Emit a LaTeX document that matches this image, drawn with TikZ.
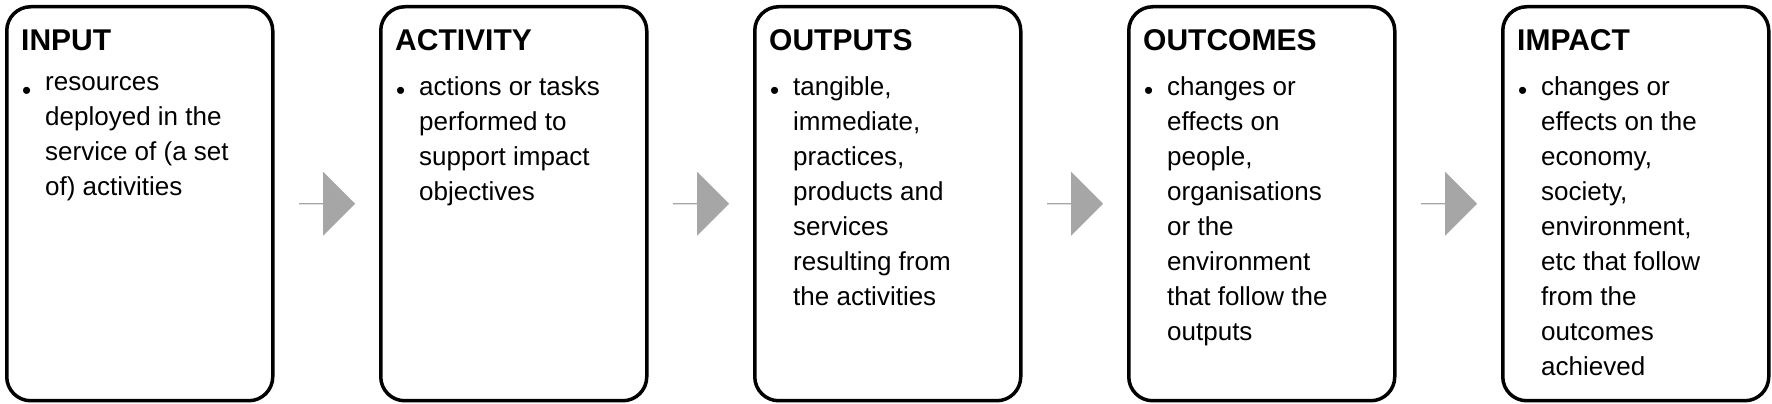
\documentclass[tikz,border=0pt]{standalone}
\usepackage{fontspec}
\setmainfont{Liberation Sans}
\usetikzlibrary{shapes.arrows,calc}
\tikzset{
  card/.style={draw=black, line width=3.5pt, rounded corners=24pt, minimum width=266pt, minimum height=394pt, anchor=north west, inner sep=0pt},
  ttl/.style={anchor=base west, font=\fontsize{30}{34}\selectfont\bfseries, inner sep=0pt},
  body/.style={anchor=north west, font=\fontsize{26}{35}\selectfont, align=left, inner sep=0pt},
  bul/.style={anchor=base west, font=\fontsize{26}{35}\selectfont, inner sep=0pt},
  flow/.style={single arrow, fill=black!35, draw=none, minimum height=56pt, minimum width=64pt, single arrow head extend=12pt, inner sep=0pt, anchor=center}
}
\begin{document}
\begin{tikzpicture}[x=1pt,y=1pt]
\useasboundingbox (0,0) rectangle (1772,404);
\foreach \n/\x/\t/\b in {
 a/5/INPUT/{resources\\deployed in the\\service of (a set\\of) activities},
 b/379/ACTIVITY/{actions or tasks\\performed to\\support impact\\objectives},
 c/753/OUTPUTS/{tangible,\\immediate,\\practices,\\products and\\services\\resulting from\\the activities},
 d/1127/OUTCOMES/{changes or\\effects on\\people,\\organisations\\or the\\environment\\that follow the\\outputs},
 e/1501/IMPACT/{changes or\\effects on the\\economy,\\society,\\environment,\\etc that follow\\from the\\outcomes\\achieved}}{
  \node[card] (\n) at (\x,399) {};
  \node[ttl] (\n t) at (\x+16,353) {\t};
  \node[bul] (\n u) at (\x+17,304) {\textbullet};
  \node[body] (\n b) at (\x+40,328) {\b};
}
\foreach \p/\q in {a/b,b/c,c/d,d/e}{
  \node[flow] (\p\q) at ($(\p.east)!0.5!(\q.west)$) {};
}
\end{tikzpicture}
\end{document}
